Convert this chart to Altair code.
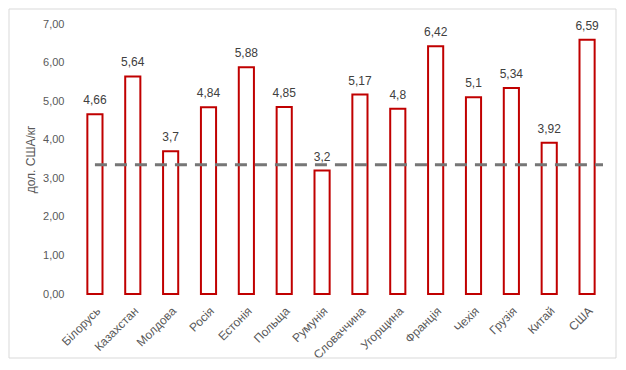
import altair as alt
import pandas as pd

countries = ["Білорусь", "Казахстан", "Молдова", "Росія", "Естонія", "Польща", "Румунія",
             "Словаччина", "Угорщина", "Франція", "Чехія", "Грузія", "Китай", "США"]
prices = [4.66, 5.64, 3.7, 4.84, 5.88, 4.85, 3.2, 5.17, 4.8, 6.42, 5.1, 5.34, 3.92, 6.59]
reference_level = [3.35]
y_ticks = [0, 1, 2, 3, 4, 5, 6, 7]

df = pd.DataFrame({"country": countries, "price": prices})
ref = pd.DataFrame({"price": reference_level, "country": [countries[0]]})

W, H = 530, 270
PL, PT, PR, PB = 68, 16, 12, 66
FONT = "Liberation Sans"
GRAY = "#595959"

x_scale = alt.Scale(domain=countries, paddingInner=0.6, paddingOuter=0.3)
x_axis = alt.Axis(title=None, labelAngle=-45, labelAlign="right", labelBaseline="top",
                  labelPadding=11, ticks=False, domain=False, labelColor=GRAY,
                  labelFontSize=12, labelFont=FONT, labelOverlap=False)
y_scale = alt.Scale(domain=[0, 7], nice=False)
y_axis = alt.Axis(title="дол. США/кг", values=y_ticks, labelOverlap=False,
                  labelExpr="replace(format(datum.value, '.2f'), '.', ',')",
                  grid=False, ticks=False, domain=False, labelPadding=12,
                  labelColor=GRAY, labelFontSize=11, labelFont=FONT,
                  titleColor=GRAY, titleFontSize=12, titleFont=FONT,
                  titleFontWeight="normal", titlePadding=5)

bars = alt.Chart(df).mark_bar(fill="white", stroke="#C00000", strokeWidth=2).encode(
    x=alt.X("country:N", scale=x_scale, axis=x_axis),
    y=alt.Y("price:Q", scale=y_scale, axis=y_axis),
)

labels = alt.Chart(df).mark_text(baseline="bottom", dy=-7, fontSize=12, font=FONT, color="#404040").encode(
    x=alt.X("country:N", scale=x_scale, axis=x_axis),
    y=alt.Y("price:Q", scale=y_scale, axis=y_axis),
    text=alt.Text("lbl:N"),
).transform_calculate(lbl="replace(toString(datum.price), '.', ',')")

rule = alt.Chart(ref).mark_rule(color="#767676", strokeWidth=3, strokeDash=[12, 8]).encode(
    x=alt.X("country:N", scale=x_scale, bandPosition=0.5, axis=x_axis),
    x2=alt.value(W - 3),
    y=alt.Y("price:Q", scale=y_scale, axis=y_axis),
)

border = alt.Chart(ref).mark_rect(fill=None, stroke="#d9d9d9", strokeWidth=1).encode(
    x=alt.value(-PL + 1), x2=alt.value(W + PR - 2),
    y=alt.value(-PT + 1), y2=alt.value(H + PB - 2),
)

chart = alt.layer(bars, labels, rule, border).properties(
    width=W, height=H,
    autosize=alt.AutoSizeParams(type="none"),
    padding={"left": PL, "top": PT, "right": PR, "bottom": PB},
).configure_view(stroke=None)

chart.save("out.html", embed_options={"renderer": "svg", "actions": False})
